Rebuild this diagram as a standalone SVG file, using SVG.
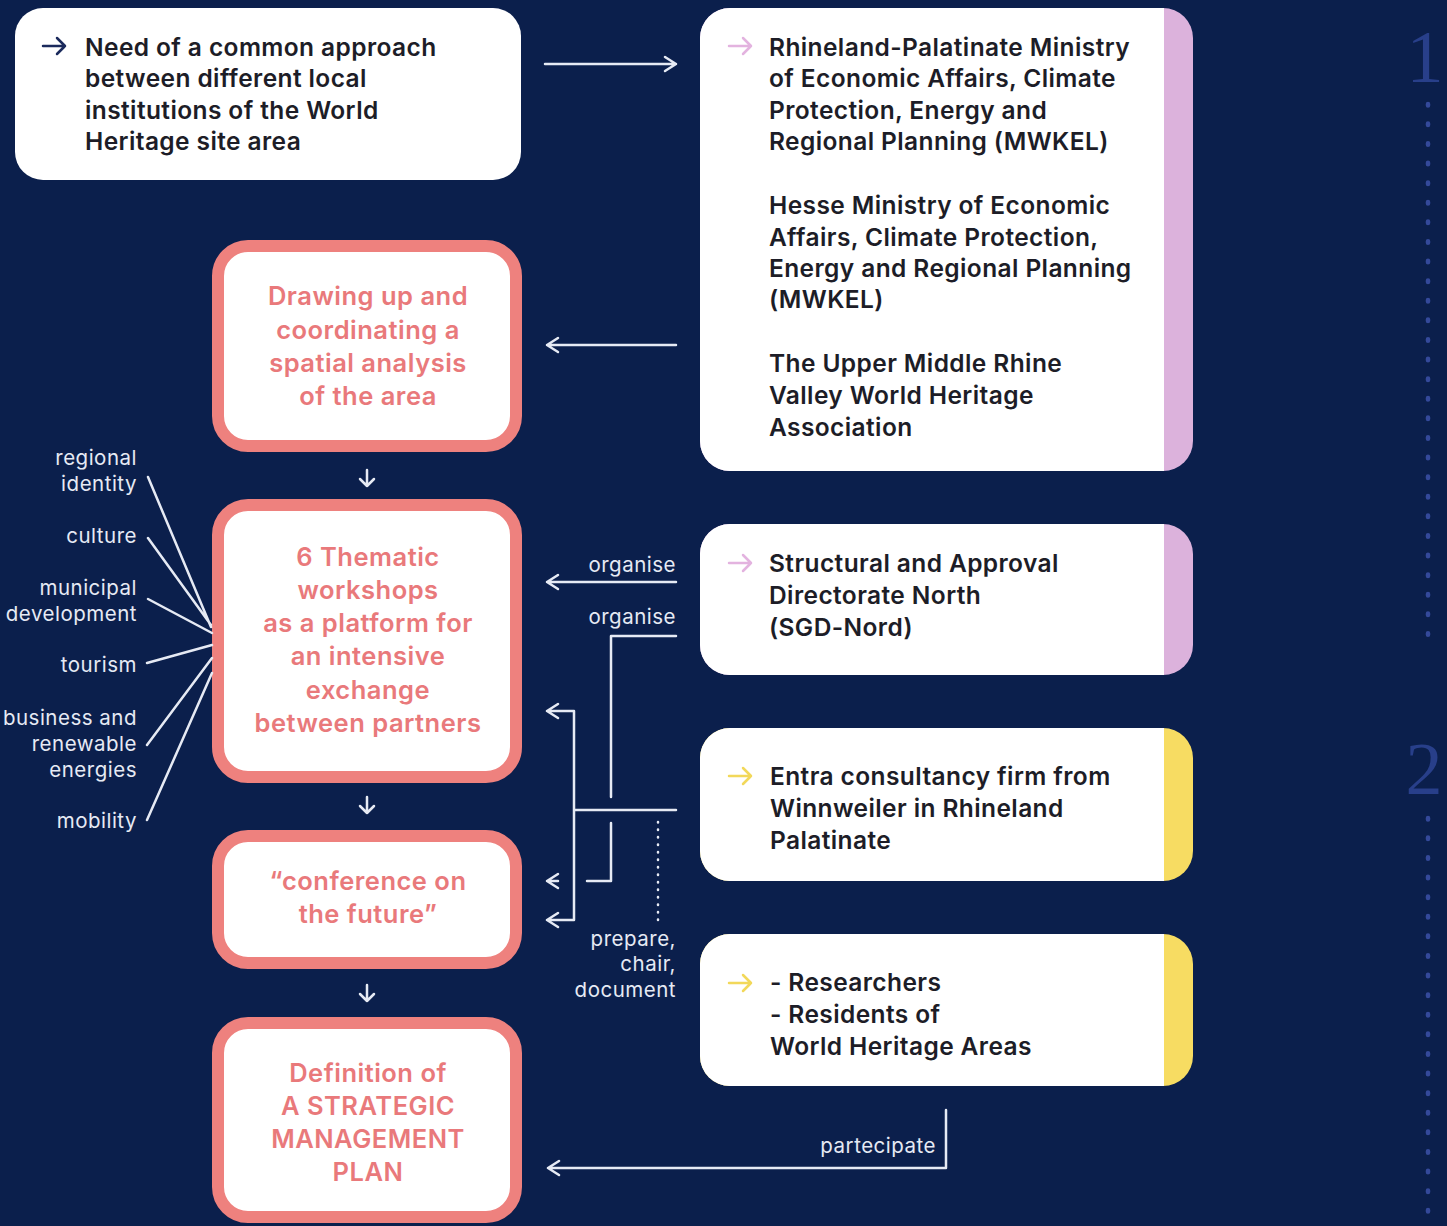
<svg xmlns="http://www.w3.org/2000/svg" width="1447" height="1226" viewBox="0 0 1447 1226">
<style>
.dark{font-family:Inter,"Noto Sans",sans-serif;font-weight:600;font-size:24.5px;letter-spacing:0.4px;fill:#1d1d27}
.pink{font-family:Inter,"Noto Sans",sans-serif;font-weight:600;font-size:25.5px;letter-spacing:0.5px;fill:#e9797b;text-anchor:middle}
.lbl{font-family:Inter,"Noto Sans",sans-serif;font-weight:400;font-size:20.5px;letter-spacing:0.5px;fill:#e6eaf4}
.r{text-anchor:end}
.pbox{fill:#fff;stroke:#ee817e;stroke-width:12}
.ln{fill:none;stroke:#e6eaf4;stroke-width:2.5;stroke-linecap:round;stroke-linejoin:round}
.ar{fill:none;stroke-width:2.5;stroke-linecap:round;stroke-linejoin:round}
.num{font-family:"Liberation Serif",serif;font-size:74px;fill:#283f8a;text-anchor:middle}
.dots{stroke:#34499a;stroke-width:4.5;stroke-linecap:round;stroke-dasharray:1.5 18.1}
</style>
<rect width="1447" height="1226" fill="#0b1f4c"/>

<g id="side">
  <text class="num" x="1425" y="82">1</text>
  <line class="dots" x1="1428" y1="104" x2="1428" y2="652"/>
  <text class="num" x="1424" y="794">2</text>
  <line class="dots" x1="1428" y1="818" x2="1428" y2="1220"/>
</g>

<g id="n-need">
  <rect x="15" y="8" width="506" height="172" rx="28" fill="#fff"/>
  <path class="ar" stroke="#1b2a5c" d="M43,46 H65 M57,38 L65,46 L57,54"/>
  <text class="dark" x="85" y="56">Need of a common approach</text>
  <text class="dark" x="85" y="87">between different local</text>
  <text class="dark" x="85" y="119">institutions of the World</text>
  <text class="dark" x="85" y="150">Heritage site area</text>
</g>

<g id="n-ministries">
  <rect x="700" y="8" width="493" height="463" rx="30" fill="#dcb2dc"/>
  <path d="M1164,8 H730 A30,30 0 0 0 700,38 V441 A30,30 0 0 0 730,471 H1164 Z" fill="#fff"/>
  <path class="ar" stroke="#e3b3df" d="M729,46 H751 M743,38 L751,46 L743,54"/>
  <text class="dark" x="769" y="56">Rhineland-Palatinate Ministry</text>
  <text class="dark" x="769" y="87">of Economic Affairs, Climate</text>
  <text class="dark" x="769" y="119">Protection, Energy and</text>
  <text class="dark" x="769" y="150">Regional Planning (MWKEL)</text>
  <text class="dark" x="769" y="214">Hesse Ministry of Economic</text>
  <text class="dark" x="769" y="246">Affairs, Climate Protection,</text>
  <text class="dark" x="769" y="277">Energy and Regional Planning</text>
  <text class="dark" x="769" y="308">(MWKEL)</text>
  <text class="dark" x="769" y="372">The Upper Middle Rhine</text>
  <text class="dark" x="769" y="404">Valley World Heritage</text>
  <text class="dark" x="769" y="436">Association</text>
</g>

<g id="n-sgd">
  <rect x="700" y="524" width="493" height="151" rx="30" fill="#dcb2dc"/>
  <path d="M1164,524 H730 A30,30 0 0 0 700,554 V645 A30,30 0 0 0 730,675 H1164 Z" fill="#fff"/>
  <path class="ar" stroke="#e3b3df" d="M729,563 H751 M743,555 L751,563 L743,571"/>
  <text class="dark" x="769" y="572">Structural and Approval</text>
  <text class="dark" x="769" y="604">Directorate North</text>
  <text class="dark" x="769" y="636">(SGD-Nord)</text>
</g>

<g id="n-entra">
  <rect x="700" y="728" width="493" height="153" rx="30" fill="#f7dc62"/>
  <path d="M1164,728 H730 A30,30 0 0 0 700,758 V851 A30,30 0 0 0 730,881 H1164 Z" fill="#fff"/>
  <path class="ar" stroke="#f2d85a" d="M729,776 H751 M743,768 L751,776 L743,784"/>
  <text class="dark" x="770" y="785">Entra consultancy firm from</text>
  <text class="dark" x="770" y="817">Winnweiler in Rhineland</text>
  <text class="dark" x="770" y="849">Palatinate</text>
</g>

<g id="n-researchers">
  <rect x="700" y="934" width="493" height="152" rx="30" fill="#f7dc62"/>
  <path d="M1164,934 H730 A30,30 0 0 0 700,964 V1056 A30,30 0 0 0 730,1086 H1164 Z" fill="#fff"/>
  <path class="ar" stroke="#f2d85a" d="M729,983 H751 M743,975 L751,983 L743,991"/>
  <text class="dark" x="770" y="991">- Researchers</text>
  <text class="dark" x="770" y="1023">- Residents of</text>
  <text class="dark" x="770" y="1055">World Heritage Areas</text>
</g>

<g id="n-spatial">
  <rect class="pbox" x="218" y="246" width="298" height="200" rx="30"/>
  <text class="pink" x="368" y="305">Drawing up and</text>
  <text class="pink" x="368" y="339">coordinating a</text>
  <text class="pink" x="368" y="372">spatial analysis</text>
  <text class="pink" x="368" y="405">of the area</text>
</g>

<g id="n-workshops">
  <rect class="pbox" x="218" y="505" width="298" height="272" rx="30"/>
  <text class="pink" x="368" y="566">6 Thematic</text>
  <text class="pink" x="368" y="599">workshops</text>
  <text class="pink" x="368" y="632">as a platform for</text>
  <text class="pink" x="368" y="665">an intensive</text>
  <text class="pink" x="368" y="699">exchange</text>
  <text class="pink" x="368" y="732">between partners</text>
</g>

<g id="n-conference">
  <rect class="pbox" x="218" y="836" width="298" height="127" rx="30"/>
  <text class="pink" x="368" y="890">“conference on</text>
  <text class="pink" x="368" y="923">the future”</text>
</g>

<g id="n-plan">
  <rect class="pbox" x="218" y="1023" width="298" height="194" rx="30"/>
  <text class="pink" x="368" y="1082">Definition of</text>
  <text class="pink" x="368" y="1115">A STRATEGIC</text>
  <text class="pink" x="368" y="1148">MANAGEMENT</text>
  <text class="pink" x="368" y="1181">PLAN</text>
</g>

<g id="themes">
  <text class="lbl r" x="137" y="465">regional</text>
  <text class="lbl r" x="137" y="491">identity</text>
  <text class="lbl r" x="137" y="543">culture</text>
  <text class="lbl r" x="137" y="595">municipal</text>
  <text class="lbl r" x="137" y="621">development</text>
  <text class="lbl r" x="137" y="672">tourism</text>
  <text class="lbl r" x="137" y="725">business and</text>
  <text class="lbl r" x="137" y="751">renewable</text>
  <text class="lbl r" x="137" y="777">energies</text>
  <text class="lbl r" x="137" y="828">mobility</text>
</g>

<g id="connectors">
  <path class="ln" d="M148,477 L211,627 M148,538 L211,625 M148,599 L212,633 M147,663 L212,645 M147,745 L212,658 M147,820 L212,673"/>
  <path class="ln" d="M367,470 V486 M360,479 L367,486 L374,479"/>
  <path class="ln" d="M367,797 V813 M360,806 L367,813 L374,806"/>
  <path class="ln" d="M367,985 V1001 M360,994 L367,1001 L374,994"/>
  <path class="ln" d="M545,64 H676 M665,57 L676,64 L665,71"/>
  <path class="ln" d="M676,345 H547 M558,338 L547,345 L558,352"/>
  <text class="lbl r" x="676" y="572">organise</text>
  <path class="ln" d="M676,582 H547 M558,575 L547,582 L558,589"/>
  <text class="lbl r" x="676" y="624">organise</text>
  <path class="ln" d="M676,636 H611 V797"/>
  <path class="ln" d="M676,810 H574 M574,711 V920 M574,711 H547 M558,704 L547,711 L558,718 M574,920 H547 M558,913 L547,920 L558,927"/>
  <path class="ln" d="M611,823 V881 H587 M547,881 H558 M558,874 L547,881 L558,888"/>
  <path class="ln" d="M658,822 V920" stroke-dasharray="0.5 7" stroke-width="2"/>
  <text class="lbl r" x="676" y="946">prepare,</text>
  <text class="lbl r" x="676" y="971">chair,</text>
  <text class="lbl r" x="676" y="997">document</text>
  <text class="lbl r" x="936" y="1153">partecipate</text>
  <path class="ln" d="M946,1110 V1168 H548 M559,1161 L548,1168 L559,1175"/>
</g>
</svg>
